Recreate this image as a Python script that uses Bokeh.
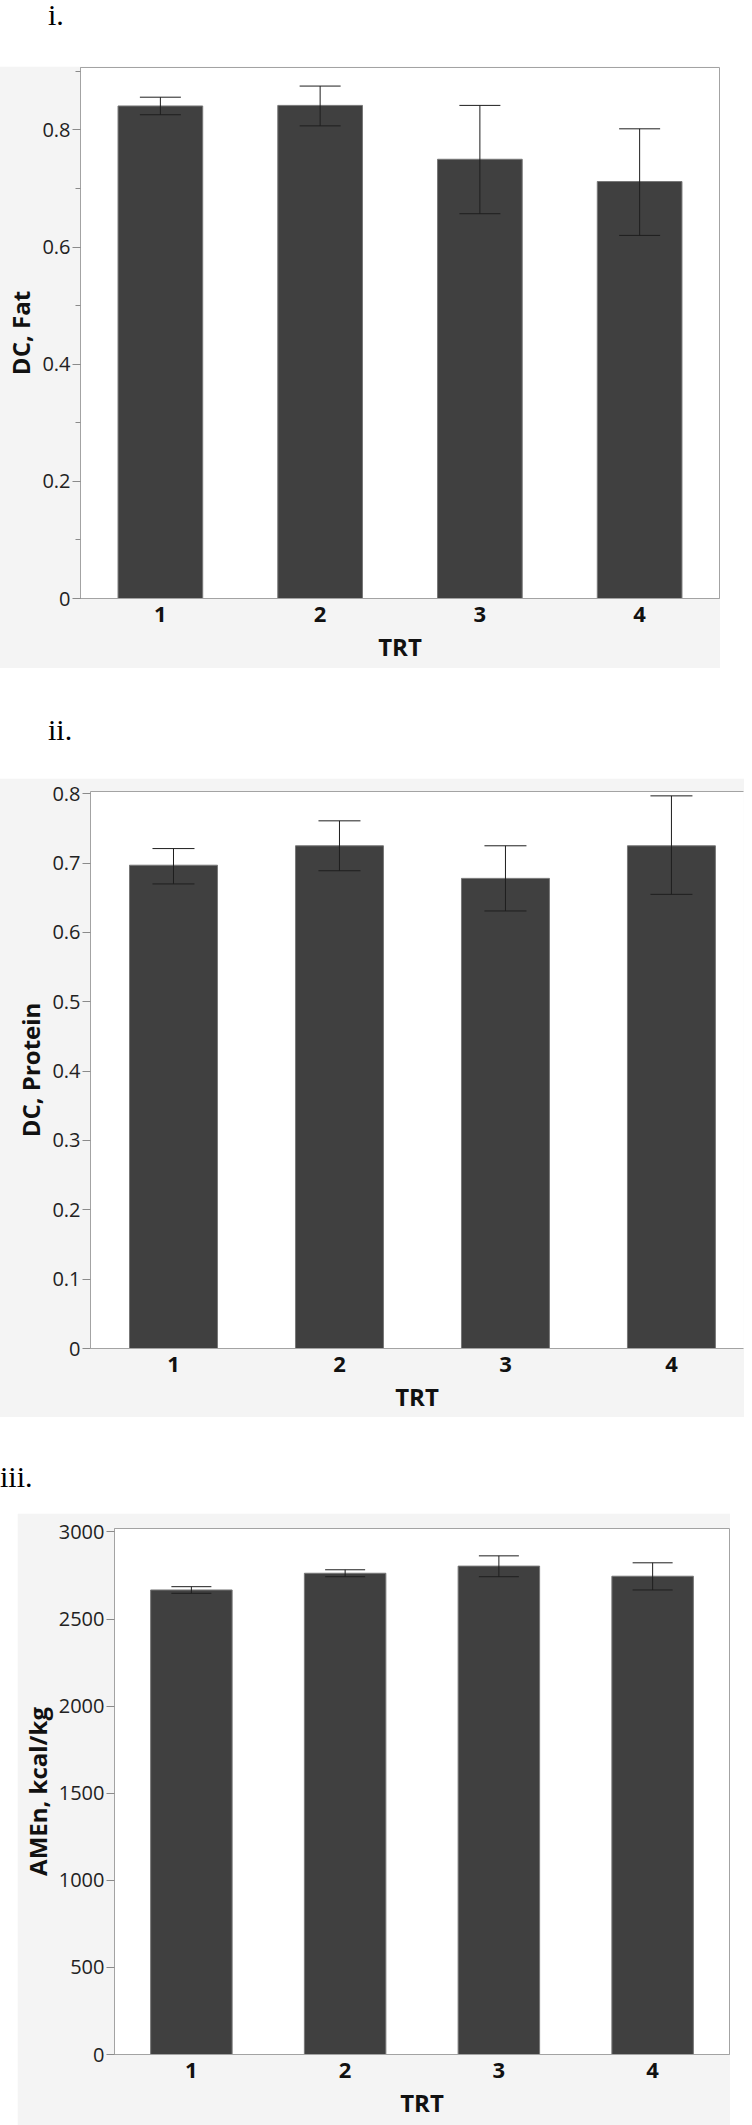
from bokeh.plotting import figure
from bokeh.layouts import column
from bokeh.models import (ColumnDataSource, Whisker, TeeHead, Range1d, FixedTicker,
                          SingleIntervalTicker, LinearAxis, Div)
from bokeh.embed import file_html
from bokeh.resources import INLINE

# ---------------- data ----------------
TRT = ["1", "2", "3", "4"]

fat_mean = [0.841, 0.842, 0.750, 0.712]
fat_lower = [0.826, 0.807, 0.657, 0.620]
fat_upper = [0.856, 0.875, 0.842, 0.802]

protein_mean = [0.697, 0.725, 0.678, 0.725]
protein_lower = [0.670, 0.689, 0.631, 0.655]
protein_upper = [0.721, 0.761, 0.725, 0.797]

amen_mean = [2667, 2763, 2804, 2746]
amen_lower = [2648, 2743, 2743, 2667]
amen_upper = [2686, 2783, 2863, 2823]

panel_labels = ["i.", "ii.", "iii."]
x_title = "TRT"
y_titles = ["DC, Fat", "DC, Protein", "AMEn, kcal/kg"]

# ---------------- styles ----------------
BAR = "#404040"
BAR_EDGE = "#777777"
ERR = "#1e1e1e"
FRAME = "#a3a3a3"
TICK = "#8a8a8a"
BG = "#f4f4f4"
SANS = "Open Sans"
PAGE_W = 752


def label_div(txt, h, pad_top, left):
    html = ('<div style="font-family:\'Liberation Serif\',serif;font-size:30px;'
            'line-height:24px;color:#000;white-space:nowrap;'
            f'padding-top:{pad_top}px;padding-left:{left}px;">{txt}</div>')
    return Div(text=html, width=PAGE_W, height=h, margin=(0, 0, 0, 0))


def panel(means, lows, highs, ytitle, ytop, ticker, width, height, mb_left, mb_top,
          mb_bottom, mb_right=1, x_end=4.5, cap=41, outline=True, margin=(0, 0, 0, 0),
          overrides=None):
    xs = [i + 1 for i in range(len(TRT))]
    p = figure(width=width, height=height, toolbar_location=None, output_backend="svg",
               x_range=Range1d(0.5, x_end), y_range=Range1d(0, ytop),
               min_border_left=mb_left, min_border_right=mb_right, min_border_top=mb_top,
               min_border_bottom=mb_bottom, background_fill_color="white",
               border_fill_color=BG, margin=margin,
               outline_line_color=FRAME if outline else None)
    p.grid.visible = False
    src = ColumnDataSource(dict(x=xs, top=means, lower=lows, upper=highs))
    p.vbar(x="x", top="top", width=0.53, bottom=0, source=src, fill_color=BAR,
           line_color=BAR_EDGE, line_width=1)
    w = Whisker(base="x", lower="lower", upper="upper", source=src, line_color=ERR,
                line_width=1, level="overlay",
                upper_head=TeeHead(size=cap, line_color=ERR, line_width=1),
                lower_head=TeeHead(size=cap, line_color=ERR, line_width=1))
    p.add_layout(w)

    xa = p.xaxis[0]
    xa.ticker = FixedTicker(ticks=xs)
    xa.major_label_overrides = {x: t for x, t in zip(xs, TRT)}
    xa.major_tick_line_color = None
    xa.minor_tick_line_color = None
    xa.axis_line_color = FRAME
    xa.major_label_text_font = SANS
    xa.major_label_text_font_style = "bold"
    xa.major_label_text_font_size = "22px"
    xa.major_label_text_color = "#111111"
    xa.major_label_standoff = 2
    xa.axis_label = x_title
    xa.axis_label_text_font = SANS
    xa.axis_label_text_font_style = "bold"
    xa.axis_label_text_font_size = "24px"
    xa.axis_label_text_color = "#111111"
    xa.axis_label_standoff = 5

    ya = p.yaxis[0]
    ya.ticker = ticker
    if overrides:
        ya.major_label_overrides = overrides
    ya.axis_line_color = FRAME
    ya.major_tick_line_color = TICK
    ya.minor_tick_line_color = TICK
    ya.major_tick_out = 8
    ya.major_tick_in = 0
    ya.minor_tick_out = 5
    ya.minor_tick_in = 0
    ya.major_label_text_font = SANS
    ya.major_label_text_font_size = "20px"
    ya.major_label_text_color = "#222222"
    ya.major_label_standoff = 2
    ya.axis_label = ytitle
    ya.axis_label_text_font = SANS
    ya.axis_label_text_font_style = "bold"
    ya.axis_label_text_font_size = "24px"
    ya.axis_label_text_color = "#111111"
    ya.axis_label_standoff = 2

    if not outline:
        top = LinearAxis(ticker=FixedTicker(ticks=[]), axis_line_color=FRAME,
                         major_tick_line_color=None, minor_tick_line_color=None,
                         major_label_standoff=0)
        p.add_layout(top, "above")
    return p


D1 = label_div(panel_labels[0], 66, 3, 48)
P1 = panel(fat_mean, fat_lower, fat_upper, y_titles[0], 0.9067,
           SingleIntervalTicker(interval=0.2, num_minor_ticks=2),
           width=737, height=602, mb_left=77, mb_top=1, mb_bottom=70, cap=41,
           margin=(0, 0, 0, -17), overrides={0: "0"})
D2 = label_div(panel_labels[1], 110, 50, 48)
P2 = panel(protein_mean, protein_lower, protein_upper, y_titles[1], 0.8033,
           SingleIntervalTicker(interval=0.1, num_minor_ticks=0),
           width=751, height=639, mb_left=80, mb_top=13, mb_bottom=69, mb_right=0,
           x_end=0.5 + 657.0 / 167.0, cap=42, outline=False, margin=(0, 0, 0, -7),
           overrides={0: "0"})
D3 = label_div(panel_labels[2], 96, 48, 0)
P3 = panel(amen_mean, amen_lower, amen_upper, y_titles[2], 3020,
           SingleIntervalTicker(interval=500, num_minor_ticks=0),
           width=713, height=612, mb_left=94, mb_top=15, mb_bottom=71, cap=40,
           margin=(0, 0, 0, 17))

layout = column(D1, P1, D2, P2, D3, P3, spacing=0)
open("out.html", "w").write(file_html(layout, INLINE))
